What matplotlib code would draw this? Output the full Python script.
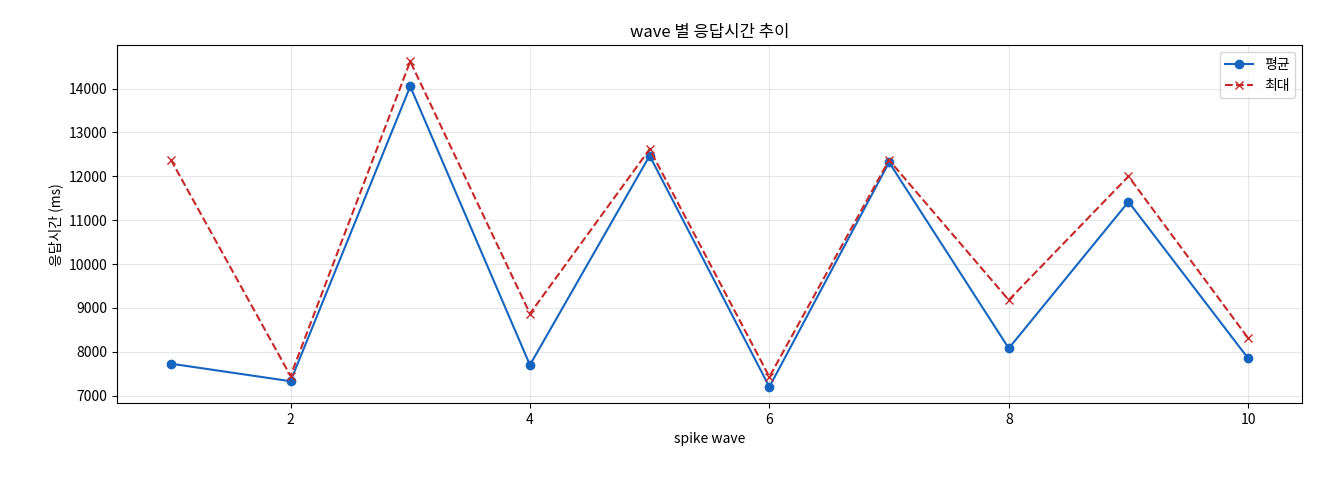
import matplotlib
matplotlib.use("Agg")
import matplotlib.pyplot as plt

plt.rcParams['font.family'] = ['Noto Sans CJK KR', 'DejaVu Sans']
plt.rcParams['axes.unicode_minus'] = False

waves = [1, 2, 3, 4, 5, 6, 7, 8, 9, 10]
avg = [7730, 7330, 14050, 7700, 12470, 7200, 12320, 8080, 11420, 7850]
mx = [12380, 7450, 14620, 8870, 12620, 7430, 12370, 9180, 12000, 8310]

fig, ax = plt.subplots(figsize=(13.2, 4.8), dpi=100)
fig.subplots_adjust(left=0.0886, right=0.9864, top=0.906, bottom=0.16)
ax.plot(waves, avg, '-o', color='#1565c0', label='평균', markersize=6, linewidth=1.5)
ax.plot(waves, mx, '--x', color='#c62828', label='최대', markersize=6, linewidth=1.5)
ax.set_title('wave 별 응답시간 추이', fontsize=12)
ax.set_xlabel('spike wave', fontsize=10)
ax.set_ylabel('응답시간 (ms)', fontsize=10)
ax.grid(True, alpha=0.3)
ax.legend(loc='upper right')
fig.savefig('out.png')
